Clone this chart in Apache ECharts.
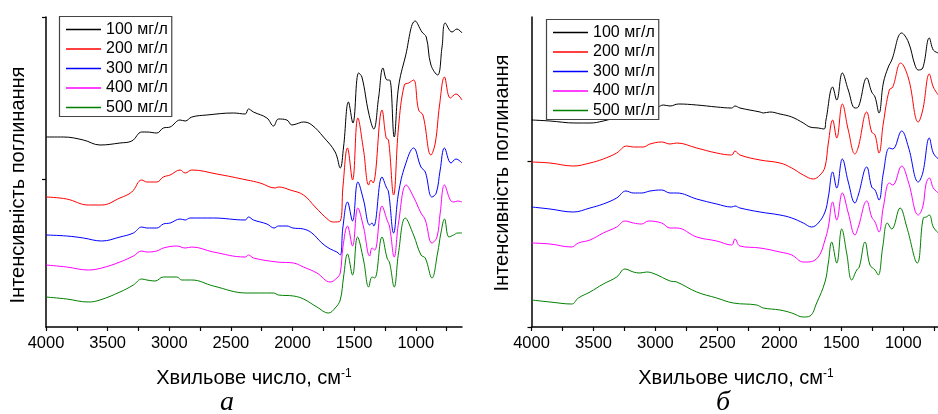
<!DOCTYPE html>
<html><head><meta charset="utf-8">
<script src="https://cdn.jsdelivr.net/npm/echarts@6/dist/echarts.min.js"></script>
<style>html,body{margin:0;padding:0;background:#fff}#c{width:938px;height:414px}</style>
</head><body><div id="c"></div>
<script>
const seriesNames = ['100 мг/л','200 мг/л','300 мг/л','400 мг/л','500 мг/л'];
const colors = ['#000000','#ff0000','#0000ff','#ff00ff','#008000'];
const xTickLabels = [4000,3500,3000,2500,2000,1500,1000];
const xTicks = [4000,3750,3500,3250,3000,2750,2500,2250,2000,1750,1500,1250,1000,750];
const yTicksA = [147.7, 310];
const yTicksB = [0, 166];
const xTitle = 'Хвильове число, см';
const xTitleSup = '-1';
const yTitle = 'Інтенсивність поглинання';
const panelLabels = ['а','б'];

// panel a: [wavenumber, intensity (arb. units)]
const a100 = [[4000,190],[3860,190],[3697,187],[3562,182],[3400,184],[3304,186],[3223,195],[3182,195],[3101,194],[3048,199],[2993,200],[2912,207],[2871,206],[2817,210],[2695,212],[2479,214],[2384,213],[2357,218],[2317,215],[2208,209],[2154,201],[2114,208],[2046,207],[2005,202],[1970,203],[1911,205],[1843,202],[1749,190],[1654,175],[1613,159],[1586,180],[1546,225],[1510,204],[1464,254],[1437,250],[1382,214],[1341,198],[1301,230],[1266,259],[1233,247],[1212,247],[1175,190],[1140,240],[1085,270],[1004,306],[950,295],[915,290],[877,262],[823,252],[787,280],[761,304],[706,295],[666,298],[625,294]];
const a200 = [[4000,130],[3832,128],[3657,122],[3548,122],[3400,129],[3304,135],[3223,147],[3182,145],[3101,145],[3048,150],[2993,152],[2912,157],[2871,154],[2817,157],[2614,153],[2370,147],[2263,144],[2141,139],[2114,140],[2019,137],[1911,132],[1816,120],[1708,107],[1667,105],[1613,106],[1591,140],[1554,179],[1513,147],[1470,209],[1424,177],[1382,142],[1364,147],[1347,144],[1274,217],[1240,189],[1221,187],[1180,132],[1140,200],[1093,242],[1058,244],[1018,247],[977,217],[942,212],[877,172],[842,184],[807,222],[767,250],[720,229],[674,233],[625,227]];
const a300 = [[4000,92],[3832,91],[3697,89],[3548,86],[3400,90],[3291,94],[3223,100],[3182,99],[3101,99],[3048,103],[2993,104],[2912,108],[2871,107],[2831,109],[2642,109],[2384,107],[2357,110],[2317,107],[2208,103],[2149,99],[2114,101],[2046,101],[1997,99],[1911,98],[1843,94],[1762,84],[1694,78],[1640,75],[1613,72],[1591,100],[1554,125],[1513,106],[1470,145],[1424,127],[1374,102],[1355,104],[1341,101],[1274,150],[1240,140],[1221,135],[1180,94],[1140,134],[1085,162],[1018,179],[958,160],[923,155],[869,130],[834,134],[802,157],[767,179],[714,164],[674,168],[625,164]];
const a400 = [[4000,62],[3832,60],[3657,57],[3548,59],[3400,65],[3291,71],[3223,76],[3182,75],[3101,76],[3048,79],[2939,81],[2871,79],[2817,80],[2642,75],[2384,70],[2357,72],[2317,69],[2127,65],[1992,64],[1911,60],[1802,54],[1694,45],[1640,49],[1613,54],[1591,80],[1554,101],[1513,81],[1470,119],[1424,100],[1374,71],[1355,79],[1333,77],[1274,121],[1233,107],[1212,100],[1175,70],[1140,104],[1077,142],[1018,130],[958,114],[923,107],[869,84],[828,90],[802,114],[767,142],[720,127],[693,125],[660,126],[625,125]];
const a500 = [[4000,30],[3832,28],[3657,25],[3562,27],[3400,35],[3291,42],[3223,48],[3182,47],[3115,46],[3048,50],[2939,50],[2898,47],[2817,47],[2642,41],[2370,34],[2154,34],[2114,32],[1992,31],[1911,28],[1802,20],[1708,14],[1654,19],[1613,27],[1586,50],[1554,73],[1513,52],[1473,90],[1424,67],[1382,40],[1355,50],[1333,49],[1274,90],[1233,69],[1212,64],[1175,40],[1140,74],[1085,109],[1018,92],[958,72],[923,69],[869,49],[823,74],[796,94],[767,108],[731,90],[693,92],[660,94],[625,94]];

// panel б
const b100 = [[4000,207],[3851,206],[3649,204],[3528,204],[3421,206],[3313,210],[3232,215],[3178,214],[3098,216],[3044,219],[2982,220],[2936,222],[2882,221],[2815,223],[2667,222],[2506,220],[2385,219],[2358,221],[2318,219],[2156,215],[2130,214],[2077,215],[1995,213],[1900,210],[1807,204],[1753,200],[1686,199],[1640,198],[1624,207],[1570,240],[1537,227],[1492,254],[1444,237],[1390,219],[1363,220],[1295,249],[1255,235],[1228,230],[1196,214],[1161,244],[1121,260],[1093,267],[1013,294],[959,285],[906,262],[879,257],[843,259],[790,289],[758,277],[717,274]];
const b200 = [[4000,165],[3851,164],[3663,161],[3528,164],[3421,168],[3313,174],[3232,181],[3178,180],[3098,180],[3044,183],[2950,185],[2882,183],[2828,184],[2667,179],[2506,174],[2385,172],[2358,176],[2318,172],[2156,167],[1995,164],[1900,159],[1807,152],[1726,148],[1672,152],[1632,160],[1605,184],[1570,207],[1537,189],[1492,223],[1444,197],[1390,173],[1363,180],[1295,215],[1255,195],[1228,192],[1196,174],[1161,204],[1113,237],[1085,240],[1021,264],[959,249],[879,205],[843,217],[790,253],[758,240],[717,232]];
const b300 = [[4000,120],[3851,118],[3663,115],[3528,119],[3421,123],[3313,129],[3238,136],[3178,134],[3111,134],[3044,136],[2950,137],[2882,134],[2828,134],[2667,128],[2506,123],[2385,120],[2358,121],[2318,119],[2156,115],[1995,112],[1900,109],[1807,104],[1740,100],[1686,104],[1632,115],[1605,130],[1570,155],[1537,139],[1492,168],[1444,145],[1390,124],[1363,132],[1295,160],[1255,140],[1228,137],[1196,127],[1161,154],[1113,179],[1085,178],[1013,196],[959,180],[879,145],[843,154],[790,189],[758,174],[717,168]];
const b400 = [[4000,84],[3851,83],[3676,80],[3622,84],[3528,87],[3421,94],[3313,100],[3246,106],[3178,104],[3111,103],[3057,106],[2950,104],[2882,99],[2828,99],[2667,90],[2506,86],[2385,82],[2358,88],[2318,81],[2156,79],[1995,75],[1900,72],[1807,65],[1767,65],[1686,70],[1632,87],[1605,100],[1570,125],[1537,107],[1492,134],[1444,114],[1390,92],[1363,100],[1295,126],[1255,110],[1228,105],[1196,95],[1161,120],[1113,144],[1085,142],[1013,161],[959,145],[879,112],[843,120],[815,144],[790,149],[758,139],[717,134]];
const b500 = [[4000,27],[3851,25],[3676,23],[3622,29],[3528,35],[3421,43],[3313,50],[3246,58],[3178,55],[3125,54],[3071,55],[3004,53],[2882,46],[2828,45],[2667,35],[2506,29],[2372,24],[2183,22],[2130,19],[1995,17],[1900,14],[1807,10],[1753,11],[1699,24],[1632,45],[1605,64],[1578,85],[1537,64],[1497,98],[1457,74],[1416,47],[1376,57],[1355,60],[1309,85],[1269,62],[1228,57],[1202,52],[1166,80],[1129,104],[1093,98],[1026,119],[972,100],[887,64],[839,109],[815,110],[790,112],[758,100],[717,94]];

const panelA = [a100,a200,a300,a400,a500];
const panelB = [b100,b200,b300,b400,b500];

const FONT = "'Liberation Sans', Arial, sans-serif";
const chart = echarts.init(document.getElementById('c'), null, {renderer:'canvas'});

function xAxisCfg(gi, min){
  return {gridIndex:gi, type:'value', min:min, max:4000, inverse:true,
    axisLine:{show:true, onZero:false, lineStyle:{color:'#000', width:1.5}},
    axisTick:{show:true, inside:false, length:4, customValues:xTicks, lineStyle:{color:'#000', width:1.2}},
    axisLabel:{show:true, customValues:xTickLabels, margin:8, fontSize:16.5, color:'#000', fontFamily:FONT,
      formatter:function(v){ return String(v); }},
    splitLine:{show:false}};
}
function yAxisCfg(gi, ticks){
  return {gridIndex:gi, type:'value', min:0, max:310,
    axisLine:{show:true, onZero:false, lineStyle:{color:'#000', width:1.5}},
    axisTick:{show:true, inside:false, length:4, customValues:ticks, lineStyle:{color:'#000', width:1.2}},
    axisLabel:{show:false}, splitLine:{show:false}};
}
function legendCfg(left, top){
  return {data:seriesNames, orient:'vertical', left:left, top:top, icon:'rect',
    itemWidth:35, itemHeight:1.3, itemGap:3.5, padding:[5,4,1,6.5],
    borderColor:'#444', borderWidth:1.2, backgroundColor:'#fff', selectedMode:false,
    textStyle:{fontSize:16, lineHeight:16, color:'#000', fontFamily:FONT}};
}
const series = [];
[panelA, panelB].forEach((panel, pi) => {
  panel.forEach((d, i) => {
    series.push({type:'line', name:seriesNames[i], xAxisIndex:pi, yAxisIndex:pi, data:d,
      symbol:'none', showSymbol:false, smooth:0.4,
      lineStyle:{width:1, color:colors[i]}, itemStyle:{color:colors[i]}, silent:true});
  });
});
function titleText(x, y){
  return {type:'text', x:x, y:y, silent:true, style:{
    text:'{t|' + xTitle + '}{s|' + xTitleSup + '}', align:'center', verticalAlign:'middle',
    rich:{t:{fontSize:20, fontFamily:FONT, fill:'#000', lineHeight:20},
          s:{fontSize:12, fontFamily:FONT, fill:'#000', verticalAlign:'top', lineHeight:12}}}};
}
function yTitleText(x, y){
  return {type:'text', x:x, y:y, rotation:Math.PI/2, silent:true, style:{
    text:yTitle, align:'center', verticalAlign:'middle', fontSize:20, fontFamily:FONT, fill:'#000'}};
}
function panelLabel(x, y, t){
  return {type:'text', x:x, y:y, silent:true, style:{
    text:t, align:'center', verticalAlign:'middle', fontSize:28, fontStyle:'italic',
    fontFamily:"'Liberation Serif', 'Times New Roman', serif", fill:'#000'}};
}
chart.setOption({
  animation:false,
  backgroundColor:'#fff',
  grid:[{left:46, top:17, width:416, height:310},
        {left:531.5, top:17, width:406.5, height:310}],
  xAxis:[xAxisCfg(0, 625), xAxisCfg(1, 720)],
  yAxis:[yAxisCfg(0, yTicksA), yAxisCfg(1, yTicksB)],
  legend:[legendCfg(59.5, 16.5), legendCfg(546.5, 19.5)],
  series:series,
  graphic:[titleText(254, 378), titleText(736, 378),
           yTitleText(18, 185), yTitleText(502, 173),
           panelLabel(227, 403, panelLabels[0]), panelLabel(723, 403, panelLabels[1])]
});
</script></body></html>
